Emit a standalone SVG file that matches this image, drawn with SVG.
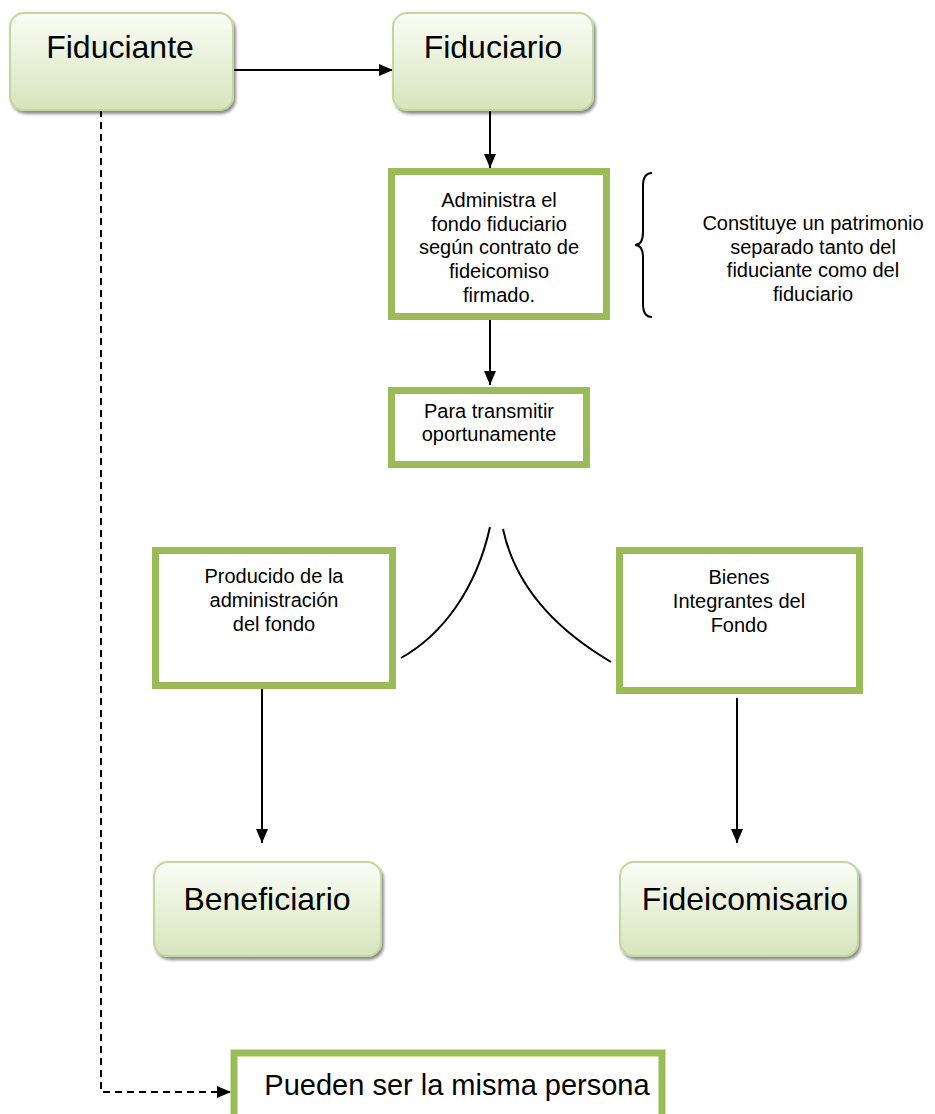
<svg xmlns="http://www.w3.org/2000/svg" width="935" height="1114" viewBox="0 0 935 1114">
<defs>
<linearGradient id="g" x1="0" y1="0" x2="0" y2="1">
<stop offset="0" stop-color="#fbfdf7"/>
<stop offset="1" stop-color="#d6e4bb"/>
</linearGradient>
<filter id="sh" x="-10%" y="-10%" width="130%" height="140%">
<feGaussianBlur in="SourceAlpha" stdDeviation="1.5"/>
<feOffset dx="2" dy="3" result="o"/>
<feComponentTransfer><feFuncA type="linear" slope="0.45"/></feComponentTransfer>
<feMerge><feMergeNode/><feMergeNode in="SourceGraphic"/></feMerge>
</filter>
<marker id="ah" viewBox="0 0 14 12" refX="14" refY="6" markerWidth="14" markerHeight="12" markerUnits="userSpaceOnUse" orient="auto">
<path d="M0,0 L14,6 L0,12 z" fill="#000"/>
</marker>
</defs>
<style>
.rb{fill:url(#g);stroke:#c3d69b;stroke-width:2;filter:url(#sh)}
.gb{fill:#fff;stroke:#9bbb59;stroke-width:7}
.big{font-family:"Liberation Sans",Arial,sans-serif;font-size:32px;fill:#000;text-anchor:middle}
.sm{font-family:"Liberation Sans",Arial,sans-serif;font-size:20px;fill:#000;text-anchor:middle}
.ln{stroke:#000;stroke-width:2;fill:none}
</style>
<g id="connectors">
<line class="ln" x1="233" y1="70" x2="393" y2="70" marker-end="url(#ah)"/>
<line class="ln" x1="490" y1="110" x2="490" y2="168" marker-end="url(#ah)"/>
<line class="ln" x1="490" y1="320" x2="490" y2="385" marker-end="url(#ah)"/>
<path class="ln" d="M490,527 C476,590 442,635 401,658"/>
<path class="ln" d="M503,529 C516,590 560,632 611,662"/>
<line class="ln" x1="262" y1="689" x2="262" y2="843" marker-end="url(#ah)"/>
<line class="ln" x1="737" y1="698" x2="737" y2="843" marker-end="url(#ah)"/>
<path class="ln" d="M101,110 L101,1092 L231,1092" stroke-dasharray="7,5" marker-end="url(#ah)"/>
<path class="ln" d="M652,173 Q643,173 643,186 L643,232 Q643,245 635,245 Q643,245 643,258 L643,304 Q643,317 652,317" stroke-width="1.5"/>
</g>
<g id="fiduciante">
<rect class="rb" x="10" y="13" width="223" height="97" rx="14"/>
<text class="big" x="120" y="58">Fiduciante</text>
</g>
<g id="fiduciario">
<rect class="rb" x="393" y="13" width="200" height="97" rx="14"/>
<text class="big" x="493" y="58">Fiduciario</text>
</g>
<g id="administra">
<rect class="gb" x="391.5" y="171.5" width="215" height="145"/>
<text class="sm" x="499" y="207">Administra el</text>
<text class="sm" x="499" y="231">fondo fiduciario</text>
<text class="sm" x="499" y="254">según contrato de</text>
<text class="sm" x="499" y="278">fideicomiso</text>
<text class="sm" x="499" y="302">firmado.</text>
</g>
<g id="constituye">
<text class="sm" x="813" y="230">Constituye un patrimonio</text>
<text class="sm" x="813" y="254">separado tanto del</text>
<text class="sm" x="813" y="277">fiduciante como del</text>
<text class="sm" x="813" y="301">fiduciario</text>
</g>
<g id="para">
<rect class="gb" x="391.5" y="390.5" width="195" height="74"/>
<text class="sm" x="489" y="418">Para transmitir</text>
<text class="sm" x="489" y="441">oportunamente</text>
</g>
<g id="producido">
<rect class="gb" x="155.5" y="550.5" width="237" height="135"/>
<text class="sm" x="274" y="583">Producido de la</text>
<text class="sm" x="274" y="607">administración</text>
<text class="sm" x="274" y="631">del fondo</text>
</g>
<g id="bienes">
<rect class="gb" x="619.5" y="550.5" width="240" height="140"/>
<text class="sm" x="739" y="584">Bienes</text>
<text class="sm" x="739" y="608">Integrantes del</text>
<text class="sm" x="739" y="632">Fondo</text>
</g>
<g id="beneficiario">
<rect class="rb" x="154" y="862" width="227" height="94" rx="14"/>
<text class="big" x="267" y="910">Beneficiario</text>
</g>
<g id="fideicomisario">
<rect class="rb" x="620" y="862" width="238" height="94" rx="14"/>
<text class="big" x="745" y="910">Fideicomisario</text>
</g>
<g id="misma">
<rect class="gb" x="234" y="1053" width="428" height="70"/>
<text class="big" x="457" y="1095" style="font-size:29px">Pueden ser la misma persona</text>
</g>
</svg>
